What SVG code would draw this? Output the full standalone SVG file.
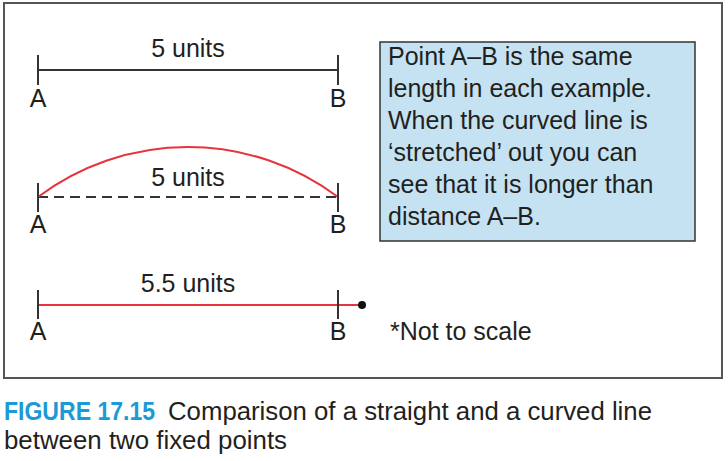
<svg xmlns="http://www.w3.org/2000/svg" width="728" height="461" viewBox="0 0 728 461">
<style>
  .t { font-family: "Liberation Sans", Arial, sans-serif; font-size: 25px; fill: #231f20; }
  .c { text-anchor: middle; }
  .blk { stroke: #333; stroke-width: 2; fill: none; }
  .red { stroke: #e8323c; stroke-width: 2; fill: none; }
  .cap { font-family: "Liberation Sans", Arial, sans-serif; font-size: 25px; fill: #231f20; }
</style>
<rect width="728" height="461" fill="#fff"/>
<rect id="frame" x="4" y="3" width="718" height="375" fill="none" stroke="#555" stroke-width="2"/>

<g id="connectors">
  <!-- row 1 -->
  <line class="blk" x1="38" y1="70" x2="338" y2="70"/>
  <!-- row 2 -->
  <line class="blk" x1="38" y1="197" x2="338" y2="197" stroke-dasharray="10 6"/>
  <path class="red" d="M38,197 A250,250 0 0 1 338,197"/>
  <!-- row 3 -->
  <line class="red" x1="38" y1="305" x2="362" y2="305"/>
</g>

<g id="row1">
  <line class="blk" x1="38" y1="55" x2="38" y2="85"/>
  <line class="blk" x1="338" y1="55" x2="338" y2="85"/>
  <text class="t c" x="188" y="57">5 units</text>
  <text class="t c" x="38" y="107">A</text>
  <text class="t c" x="338" y="107">B</text>
</g>

<g id="row2">
  <line class="blk" x1="38" y1="183" x2="38" y2="212"/>
  <line class="blk" x1="338" y1="183" x2="338" y2="212"/>
  <text class="t c" x="188" y="186">5 units</text>
  <text class="t c" x="38" y="233">A</text>
  <text class="t c" x="338" y="233">B</text>
</g>

<g id="row3">
  <line class="blk" x1="38" y1="290" x2="38" y2="319"/>
  <line class="blk" x1="338" y1="290" x2="338" y2="319"/>
  <circle cx="362" cy="305" r="4" fill="#111"/>
  <text class="t c" x="188" y="292">5.5 units</text>
  <text class="t c" x="38" y="340">A</text>
  <text class="t c" x="338" y="340">B</text>
  <text class="t" x="390" y="340">*Not to scale</text>
</g>

<g id="note">
  <rect x="380" y="42" width="315" height="199" fill="#c5e2f2" stroke="#333" stroke-width="1.5"/>
  <text class="t" x="388" y="65">Point A–B is the same</text>
  <text class="t" x="388" y="97">length in each example.</text>
  <text class="t" x="388" y="129">When the curved line is</text>
  <text class="t" x="388" y="161">‘stretched’ out you can</text>
  <text class="t" x="388" y="193">see that it is longer than</text>
  <text class="t" x="388" y="225">distance A–B.</text>
</g>

<g id="caption">
  <text class="cap" x="4" y="420" fill="#1b9ad6" font-weight="bold" textLength="151" lengthAdjust="spacingAndGlyphs" style="fill:#1b9ad6">FIGURE 17.15</text>
  <text class="cap" x="168" y="420" textLength="484" lengthAdjust="spacingAndGlyphs">Comparison of a straight and a curved line</text>
  <text class="cap" x="4" y="449" textLength="283" lengthAdjust="spacingAndGlyphs">between two fixed points</text>
</g>
</svg>
